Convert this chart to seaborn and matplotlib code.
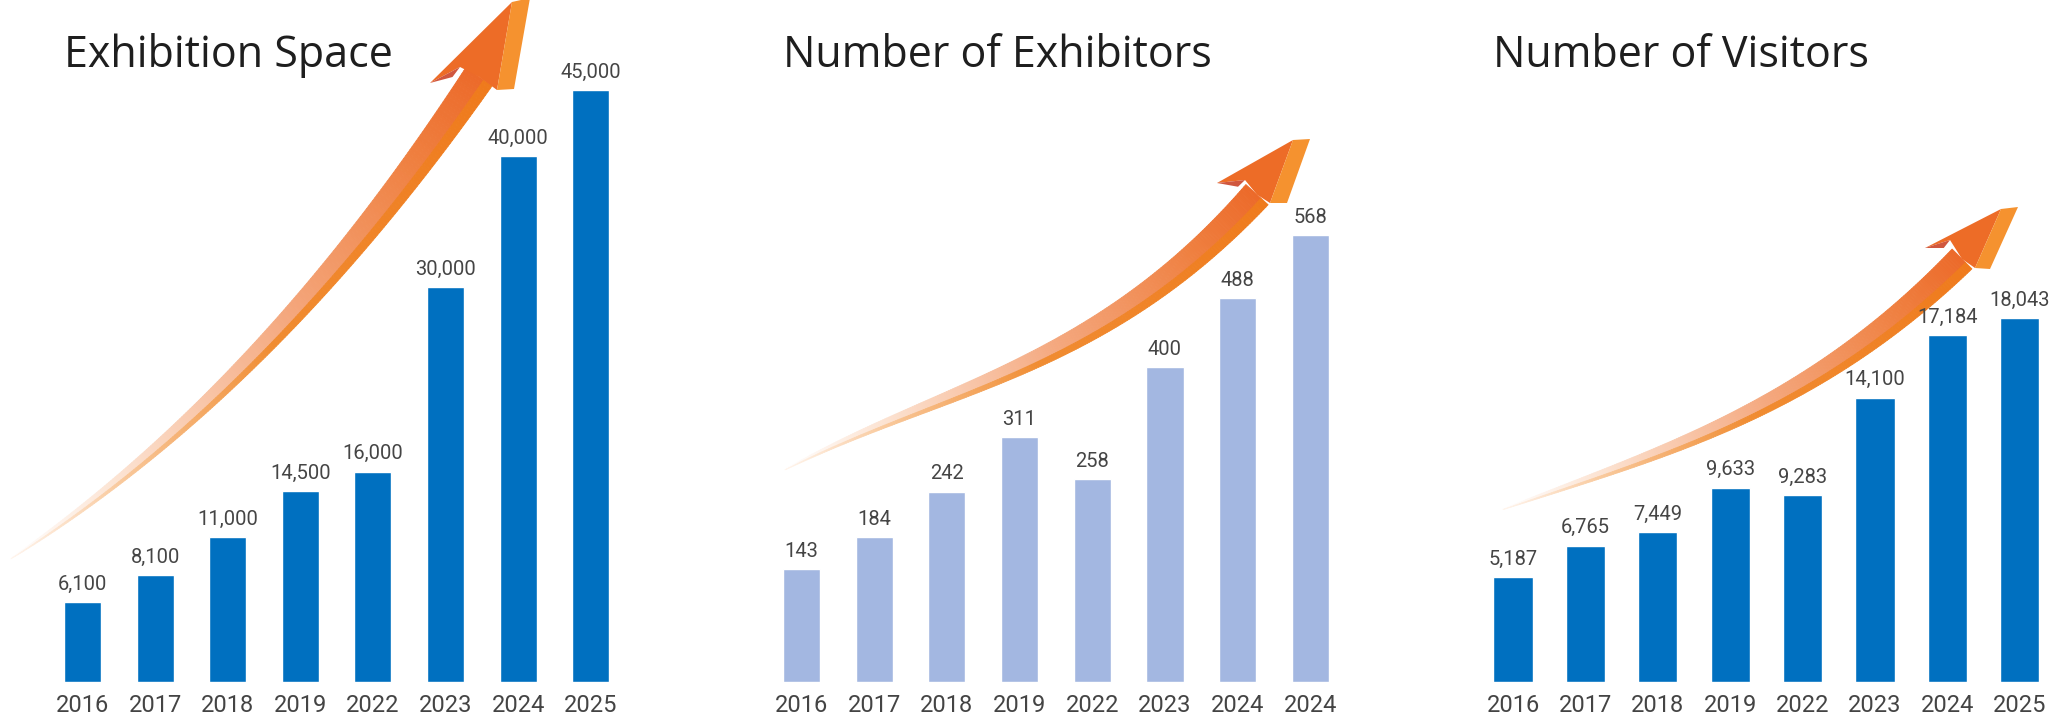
import numpy as np
import matplotlib
matplotlib.use("Agg")
import matplotlib.pyplot as plt
from matplotlib.collections import PolyCollection
from matplotlib.patches import Polygon
from matplotlib.colors import to_rgb
import seaborn as sns

# ---- data ----
years_space = ["2016", "2017", "2018", "2019", "2022", "2023", "2024", "2025"]
space_values = [6100, 8100, 11000, 14500, 16000, 30000, 40000, 45000]

years_exhibitors = ["2016", "2017", "2018", "2019", "2022", "2023", "2024", "2024"]
exhibitor_values = [143, 184, 242, 311, 258, 400, 488, 568]

years_visitors = ["2016", "2017", "2018", "2019", "2022", "2023", "2024", "2025"]
visitor_values = [5187, 6765, 7449, 9633, 9283, 14100, 17184, 18043]

titles = ["Exhibition Space", "Number of Exhibitors", "Number of Visitors"]

W, H = 2050, 714
sns.set_theme(style="white")
plt.rcParams["font.family"] = ["Roboto", "DejaVu Sans"]

fig = plt.figure(figsize=(W / 100, H / 100), dpi=100)
fig.patch.set_facecolor("white")

# overlay in pixel coords (y downwards) for the decorative arrows
ov = fig.add_axes([0, 0, 1, 1])
ov.set_xlim(0, W)
ov.set_ylim(H, 0)
ov.axis("off")


def grad(stops, t):
    pos = [s[0] for s in stops]
    cols = np.array([to_rgb(s[1]) for s in stops])
    return np.stack([np.interp(t, pos, cols[:, k]) for k in range(3)], axis=1)


def draw_arrow(ax, guide, head, body_w):
    # guide: points along the centre line (pixel coords), head: corners of the arrow head
    gx, gy = np.array(guide, dtype=float).T
    coef = np.polyfit(gx, gy, 3)
    xs = np.linspace(gx[0], gx[-1], 220)
    pts = np.stack([xs, np.polyval(coef, xs)], axis=1)
    seg = np.linalg.norm(np.diff(pts, axis=0), axis=1)
    t = np.concatenate([[0], np.cumsum(seg)]) / seg.sum()
    d = np.gradient(pts, axis=0)
    d /= np.linalg.norm(d, axis=1)[:, None]
    nrm = np.stack([d[:, 1], -d[:, 0]], axis=1)  # points up-left
    w = body_w * t ** 0.8
    top = pts + nrm * (w / 2)[:, None]
    mid = pts - nrm * (w * 0.18)[:, None]
    bot = pts - nrm * (w / 2)[:, None]

    n = len(t) - 1
    upper = [[top[i], top[i + 1], mid[i + 1], mid[i]] for i in range(n)]
    lower = [[mid[i], mid[i + 1], bot[i + 1], bot[i]] for i in range(n)]
    tm = (t[:-1] + t[1:]) / 2
    up_cols = grad([(0, "#ffffff"), (0.2, "#fce3d2"), (0.55, "#f4a77d"), (0.85, "#ef7f3f"), (1, "#ec6a2a")], tm)
    lo_cols = grad([(0, "#fff6ef"), (0.2, "#f9c99c"), (0.5, "#f08c31"), (1, "#ef7a1c")], tm)
    ax.add_collection(PolyCollection(upper, facecolors=up_cols, edgecolors=up_cols, linewidths=0.6))
    ax.add_collection(PolyCollection(lower, facecolors=lo_cols, edgecolors=lo_cols, linewidths=0.6))

    end = pts[-1]
    T, TL, WL, NL, RI, RO = (np.asarray(head[k], dtype=float) for k in ("T", "TL", "WL", "NL", "RI", "RO"))
    ax.add_patch(Polygon([TL, WL, NL, end, RI], closed=True, facecolor="#ed6c27", edgecolor="none"))
    ax.add_patch(Polygon([TL, T, RO, RI], closed=True, facecolor="#f5922f", edgecolor="none"))
    ax.add_patch(Polygon([WL, NL, NL + (WL - NL) * 0.25 + np.array([0, 6])], closed=True,
                         facecolor="#d0573f", edgecolor="none"))


draw_arrow(ov,
           [(11, 559), (117, 480), (210, 400), (293, 317), (353, 243), (420, 160), (479, 77)],
           dict(T=(530, -2), TL=(512, 2), WL=(430, 83), NL=(460, 67), RI=(497, 90), RO=(514, 89)),
           32)
draw_arrow(ov,
           [(785, 469), (950, 402), (1050, 344), (1150, 292), (1200, 258), (1257, 191)],
           dict(T=(1310, 139), TL=(1293, 140), WL=(1217, 183), NL=(1245, 180), RI=(1270, 203), RO=(1287, 203)),
           30)
draw_arrow(ov,
           [(1503, 508), (1590, 482), (1698, 434), (1806, 379), (1878, 334), (1933, 293), (1962, 254)],
           dict(T=(2018, 207), TL=(2001, 209), WL=(1925, 248), NL=(1950, 240), RI=(1975, 268), RO=(1990, 269)),
           28)

# ---- bar panels ----
panels = [
    (years_space, space_values, "#0070c0", 82.5, 72.6, 0.51, 1.152),
    (years_exhibitors, exhibitor_values, "#a3b7e1", 801.5, 72.7, 0.51, 1.526),
    (years_visitors, visitor_values, "#0070c0", 1513.0, 72.4, 0.54, 1.874),
]
bottom_px = 682

for (years, vals, color, cx0, step, bw, top_f), title in zip(panels, titles):
    n = len(vals)
    left_px = cx0 - 0.5 * step
    ax = fig.add_axes([left_px / W, (H - bottom_px) / H, n * step / W, bottom_px / H])
    ax.patch.set_alpha(0)
    sns.barplot(x=list(range(n)), y=vals, color=color, saturation=1, width=bw, ax=ax)
    ax.set_xlim(-0.5, n - 0.5)
    ax.set_ylim(0, max(vals) * top_f)
    ax.set_xticks(range(n))
    ax.set_xticklabels(years, fontsize=17, color="#444444")
    ax.tick_params(axis="x", length=0, pad=9)
    ax.set_yticks([])
    ax.set_xlabel("")
    ax.set_ylabel("")
    sns.despine(ax=ax, left=True, bottom=True)
    ax.bar_label(ax.containers[0], labels=[f"{v:,}" for v in vals],
                 padding=6, fontsize=14.5, color="#454545")

    fig.text((cx0 - bw * step / 2) / W, (H - 67) / H, title, fontsize=31,
             family=["Open Sans", "DejaVu Sans"], color="#1e1e1e",
             ha="left", va="baseline")

fig.savefig("out.png", dpi=100, facecolor="white")
